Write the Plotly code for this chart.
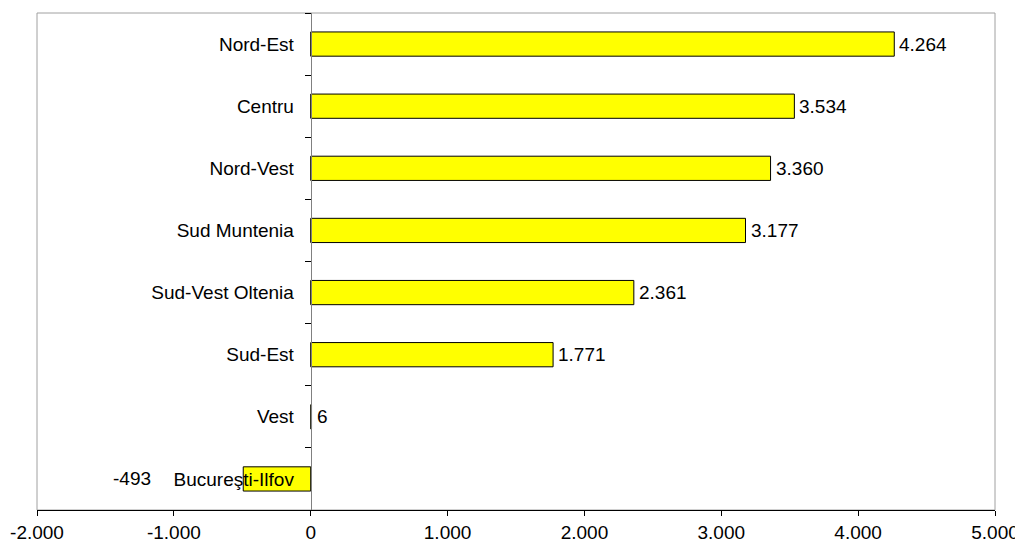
import plotly.graph_objects as go

regions = ["Nord-Est", "Centru", "Nord-Vest", "Sud Muntenia", "Sud-Vest Oltenia",
           "Sud-Est", "Vest", "Bucureşti-Ilfov"]
values = [4264, 3534, 3360, 3177, 2361, 1771, 6, -493]
x_ticks = [-2000, -1000, 0, 1000, 2000, 3000, 4000, 5000]


def fmt(v):
    s = f"{abs(v):,}".replace(",", ".")
    return ("-" if v < 0 else "") + s


FONT = "Liberation Sans, Arial, sans-serif"
FS = 19

fig = go.Figure()
fig.add_trace(go.Bar(
    x=values, y=regions, orientation="h",
    marker=dict(color="#FFFF00", line=dict(color="#000000", width=1)),
    hoverinfo="skip",
))

for v, r in zip(values, regions):
    if v >= 0:
        fig.add_annotation(x=v, y=r, text=fmt(v), showarrow=False,
                           xanchor="left", xshift=3,
                           font=dict(family=FONT, size=FS, color="#000000"))
    else:
        fig.add_annotation(x=v, y=r, text=fmt(v), showarrow=False,
                           xanchor="right", xshift=-90,
                           font=dict(family=FONT, size=FS, color="#000000"))

xmin, xmax = x_ticks[0], x_ticks[-1]
zero_pos = (0 - xmin) / (xmax - xmin)

# page body has an 8px default margin, so the figure is sized to fit the window
fig.update_layout(
    width=1015, height=536,
    margin=dict(l=29, r=28, t=5, b=34),
    paper_bgcolor="white", plot_bgcolor="white",
    showlegend=False,
    bargap=0.61,
    font=dict(family=FONT, size=FS, color="#000000"),
    xaxis=dict(
        range=[xmin, xmax], domain=[0, 1], automargin=False,
        tickvals=x_ticks, ticktext=[fmt(t) for t in x_ticks],
        showgrid=False, zeroline=False,
        showline=True, linecolor="#000000", linewidth=1,
        ticks="outside", ticklen=5, tickcolor="#000000",
        tickfont=dict(family=FONT, size=FS, color="#000000"),
    ),
    yaxis=dict(
        type="category", categoryorder="array", categoryarray=regions,
        autorange="reversed", automargin=False,
        anchor="free", position=zero_pos,
        showgrid=False, zeroline=False,
        showline=True, linecolor="#808080", linewidth=1,
        ticks="outside", tickson="boundaries", ticklen=6, tickcolor="#000000",
        ticklabelstandoff=13,
        tickfont=dict(family=FONT, size=FS, color="#000000"),
    ),
    shapes=[dict(type="rect", xref="paper", yref="paper", x0=0, x1=1, y0=0, y1=1,
                 line=dict(color="#A0A0A0", width=1), layer="below")],
)

fig.write_html("out.html")
